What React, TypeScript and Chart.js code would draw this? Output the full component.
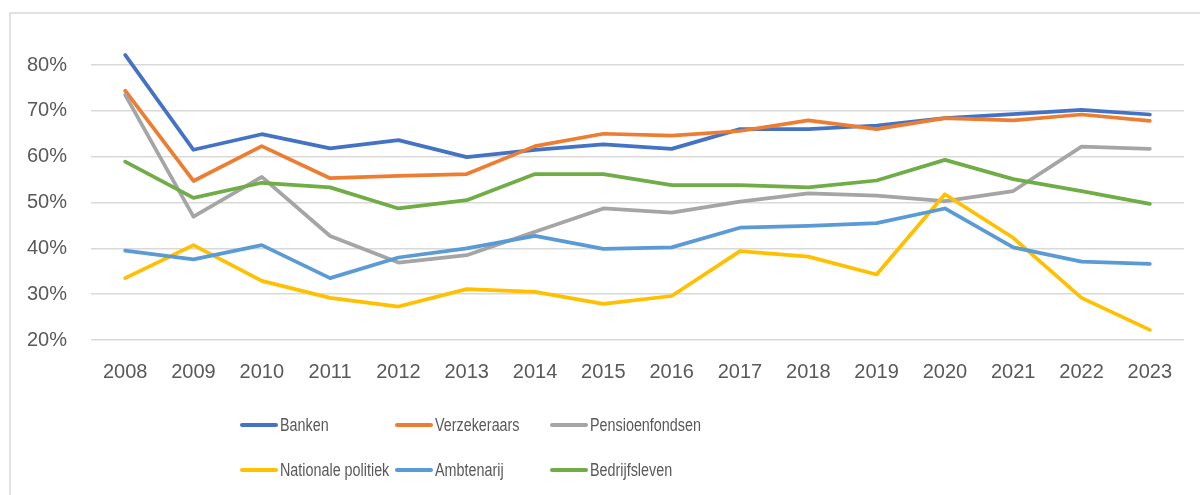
import React, { useEffect, useRef } from "react";
import { Chart, registerables } from "chart.js";

Chart.register(...registerables);

const years = ["2008", "2009", "2010", "2011", "2012", "2013", "2014", "2015", "2016", "2017", "2018", "2019", "2020", "2021", "2022", "2023"];

const banken = [82.2, 61.5, 64.9, 61.8, 63.6, 59.9, 61.5, 62.7, 61.7, 66.0, 66.0, 66.8, 68.4, 69.3, 70.2, 69.2];
const verzekeraars = [74.4, 54.7, 62.3, 55.3, 55.8, 56.2, 62.3, 65.0, 64.6, 65.6, 67.9, 66.0, 68.4, 67.9, 69.2, 67.8];
const pensioenfondsen = [73.5, 46.9, 55.6, 42.7, 36.9, 38.5, 43.6, 48.7, 47.8, 50.2, 52.0, 51.5, 50.3, 52.5, 62.2, 61.7];
const nationalePolitiek = [33.5, 40.7, 32.9, 29.2, 27.3, 31.1, 30.5, 27.9, 29.6, 39.4, 38.2, 34.3, 51.8, 42.3, 29.2, 22.2];
const ambtenarij = [39.5, 37.6, 40.7, 33.5, 38.0, 40.0, 42.7, 39.9, 40.2, 44.5, 44.9, 45.5, 48.7, 40.2, 37.1, 36.6];
const bedrijfsleven = [58.9, 51.0, 54.3, 53.3, 48.7, 50.5, 56.2, 56.2, 53.8, 53.8, 53.3, 54.8, 59.3, 55.1, 52.5, 49.7];

const seriesNames = ["Banken", "Verzekeraars", "Pensioenfondsen", "Nationale politiek", "Ambtenarij", "Bedrijfsleven"];
const seriesData = [banken, verzekeraars, pensioenfondsen, nationalePolitiek, ambtenarij, bedrijfsleven];
const seriesColors = ["#4472C4", "#ED7D31", "#A5A5A5", "#FFC000", "#5B9BD5", "#70AD47"];

const yTicks = [20, 30, 40, 50, 60, 70, 80];

const TEXT = "#595959";
const FONT = "'Liberation Sans', Arial, sans-serif";

const framePlugin = {
  id: "frame",
  beforeDraw(chart: any) {
    const ctx = chart.ctx;
    ctx.save();
    ctx.strokeStyle = "#d9d9d9";
    ctx.lineWidth = 1.5;
    ctx.strokeRect(10, 13, 1300, 600);
    ctx.restore();
  },
};

const legendPlugin = {
  id: "gridLegend",
  afterDraw(chart: any) {
    const ctx = chart.ctx;
    ctx.save();
    chart.data.datasets.forEach((ds: any, i: number) => {
      const col = i % 3;
      const row = Math.floor(i / 3);
      const x0 = 242 + col * 155;
      const y = 425 + row * 45;
      ctx.strokeStyle = ds.borderColor;
      ctx.lineWidth = 4;
      ctx.lineCap = "round";
      ctx.beginPath();
      ctx.moveTo(x0, y);
      ctx.lineTo(x0 + 34, y);
      ctx.stroke();
      ctx.save();
      ctx.translate(x0 + 38, y + 1);
      ctx.scale(0.82, 1);
      ctx.fillStyle = TEXT;
      ctx.font = `17.5px ${FONT}`;
      ctx.textBaseline = "middle";
      ctx.textAlign = "left";
      ctx.fillText(ds.label, 0, 0);
      ctx.restore();
    });
    ctx.restore();
  },
};

export default function App() {
  const ref = useRef<HTMLCanvasElement | null>(null);

  useEffect(() => {
    if (!ref.current) return;
    const chart = new Chart(ref.current, {
      type: "line",
      data: {
        labels: years,
        datasets: seriesNames.map((name, i) => ({
          label: name,
          data: seriesData[i],
          borderColor: seriesColors[i],
          backgroundColor: seriesColors[i],
          borderWidth: 3.75,
          pointRadius: 0,
          tension: 0,
          clip: false,
          borderCapStyle: "round",
          borderJoinStyle: "round",
          order: seriesNames.length - i,
        })),
      },
      options: {
        animation: false,
        responsive: false,
        layout: { padding: { left: 0, right: 16, top: 65, bottom: 95 } },
        plugins: {
          legend: { display: false },
          tooltip: { enabled: false },
        },
        scales: {
          x: {
            offset: true,
            grid: { display: false, drawTicks: false },
            border: { display: false },
            ticks: {
              color: TEXT,
              font: { family: FONT, size: 20 },
              padding: 20,
              maxRotation: 0,
              autoSkip: false,
            },
            afterFit: (s: any) => {
              s.height = 60;
            },
          },
          y: {
            min: 20,
            max: 80,
            afterBuildTicks: (s: any) => {
              s.ticks = yTicks.map((v) => ({ value: v }));
            },
            grid: { color: "#d9d9d9", lineWidth: 1.5, drawTicks: false },
            border: { display: false },
            ticks: {
              color: TEXT,
              font: { family: FONT, size: 20 },
              padding: 24,
              callback: (v: any) => `${v}%`,
            },
            afterFit: (s: any) => {
              s.width = 91;
            },
          },
        },
      },
      plugins: [framePlugin, legendPlugin],
    });
    return () => chart.destroy();
  }, []);

  return (
    <div style={{ position: "absolute", left: 0, top: 0, width: 1200, height: 495, background: "#fff" }}>
      <canvas ref={ref} width={1200} height={495} style={{ display: "block" }} />
    </div>
  );
}
